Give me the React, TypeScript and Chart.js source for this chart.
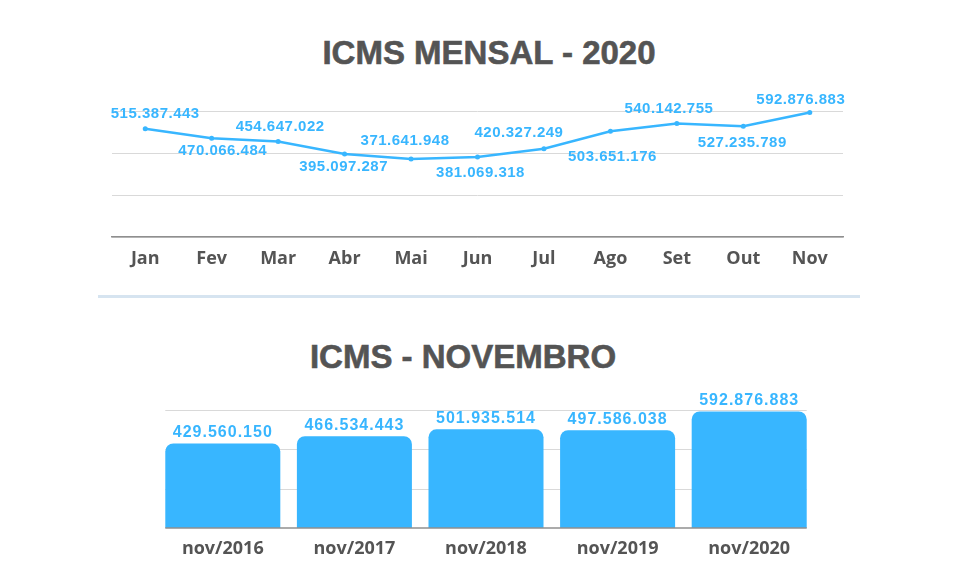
import Chart from 'chart.js/auto';
import React, { useEffect, useRef } from 'react';

const months = ['Jan', 'Fev', 'Mar', 'Abr', 'Mai', 'Jun', 'Jul', 'Ago', 'Set', 'Out', 'Nov'];
const icms2020 = [
  515387443, 470066484, 454647022, 395097287, 371641948, 381069318,
  420327249, 503651176, 540142755, 527235789, 592876883,
];

const novLabels = ['nov/2016', 'nov/2017', 'nov/2018', 'nov/2019', 'nov/2020'];
const novValues = [429560150, 466534443, 501935514, 497586038, 592876883];

const yTicks = [0, 200000000, 400000000, 600000000];

// label placement relative to each point (style only)
const labelShiftX = [10, 11, 2, -1, -6, 3, -25, 2, -8, -1, -9];
const labelShiftY = [-14.5, 12.7, -15, 12.8, -18, 16, -16, 26, -15, 16.5, -12.3];

const BLUE = '#38b6ff';
const DARK = '#545454';
const GRID = '#d9d9d9';
const AXIS = '#8f8f8f';
const TITLE_FONT = '"Liberation Sans", Arial, sans-serif';

const fmt = (n: number) => String(n).replace(/\B(?=(\d{3})+(?!\d))/g, '.');

const LineChart: React.FC = () => {
  const ref = useRef<HTMLCanvasElement>(null);

  useEffect(() => {
    if (!ref.current) return;
    const ctx = ref.current.getContext('2d');
    if (!ctx) return;

    const valueLabels = {
      id: 'valueLabels',
      afterDatasetsDraw(chart: any) {
        const c = chart.ctx;
        const pts = chart.getDatasetMeta(0).data;
        c.save();
        c.font = `bold 15px ${TITLE_FONT}`;
        c.letterSpacing = '0.5px';
        c.fillStyle = BLUE;
        c.textAlign = 'center';
        c.textBaseline = 'middle';
        pts.forEach((pt: any, i: number) => {
          c.fillText(fmt(icms2020[i]), pt.x + labelShiftX[i], pt.y + labelShiftY[i]);
        });
        c.restore();
      },
    };

    const chart = new Chart(ctx, {
      type: 'line',
      data: {
        labels: months,
        datasets: [
          {
            data: icms2020,
            borderColor: BLUE,
            backgroundColor: BLUE,
            borderWidth: 2.5,
            pointRadius: 2.5,
            pointBorderWidth: 0,
            tension: 0,
            clip: false,
          },
        ],
      },
      options: {
        animation: false,
        responsive: false,
        layout: { padding: { left: 112, right: 133, top: 111, bottom: 0 } },
        plugins: { legend: { display: false }, tooltip: { enabled: false } },
        scales: {
          x: {
            offset: true,
            grid: { display: false, drawTicks: false },
            border: { color: AXIS, width: 1.5 },
            ticks: {
              padding: 11,
              color: DARK,
              font: { family: '"Open Sans", sans-serif', size: 18, weight: 'bold' },
            },
            afterFit: (s: any) => {
              s.height = 53;
            },
          },
          y: {
            min: 0,
            max: 600000000,
            afterBuildTicks: (s: any) => {
              s.ticks = yTicks.map((v) => ({ value: v }));
            },
            grid: { color: GRID, drawTicks: false },
            border: { display: false },
            ticks: { display: false },
            afterFit: (s: any) => {
              s.width = 0;
            },
          },
        },
      },
      plugins: [valueLabels],
    });

    return () => {
      chart.destroy();
    };
  }, []);

  return (
    <canvas
      ref={ref}
      width={976}
      height={290}
      style={{ position: 'absolute', left: 0, top: 0, width: 976, height: 290 }}
    />
  );
};

const BarChart: React.FC = () => {
  const ref = useRef<HTMLCanvasElement>(null);

  useEffect(() => {
    if (!ref.current) return;
    const ctx = ref.current.getContext('2d');
    if (!ctx) return;

    const barGrid = {
      id: 'barGrid',
      beforeDatasetsDraw(chart: any) {
        const c = chart.ctx;
        const y = chart.scales.y;
        const bars = chart.getDatasetMeta(0).data;
        const first = bars[0];
        const last = bars[bars.length - 1];
        const left = first.x - first.width / 2;
        const right = last.x + last.width / 2;
        c.save();
        c.strokeStyle = GRID;
        c.lineWidth = 1;
        yTicks.slice(1).forEach((v) => {
          const py = Math.round(y.getPixelForValue(v)) + 0.5;
          c.beginPath();
          c.moveTo(left, py);
          c.lineTo(right, py);
          c.stroke();
        });
        c.restore();
      },
      afterDatasetsDraw(chart: any) {
        const c = chart.ctx;
        const y = chart.scales.y;
        const bars = chart.getDatasetMeta(0).data;
        const first = bars[0];
        const last = bars[bars.length - 1];
        const left = first.x - first.width / 2;
        const right = last.x + last.width / 2;
        c.save();
        c.strokeStyle = AXIS;
        c.lineWidth = 1.5;
        const py = y.getPixelForValue(0);
        c.beginPath();
        c.moveTo(left, py);
        c.lineTo(right, py);
        c.stroke();

        c.font = `bold 16px ${TITLE_FONT}`;
        c.letterSpacing = '1px';
        c.fillStyle = BLUE;
        c.textAlign = 'center';
        c.textBaseline = 'middle';
        bars.forEach((b: any, i: number) => {
          c.fillText(fmt(novValues[i]), b.x, b.y - 10.5);
        });
        c.restore();
      },
    };

    const chart = new Chart(ctx, {
      type: 'bar',
      data: {
        labels: novLabels,
        datasets: [
          {
            data: novValues,
            backgroundColor: BLUE,
            borderRadius: { topLeft: 8, topRight: 8, bottomLeft: 0, bottomRight: 0 },
            borderSkipped: false,
            barPercentage: 0.874,
            categoryPercentage: 1,
          },
        ],
      },
      options: {
        animation: false,
        responsive: false,
        layout: { padding: { left: 157, right: 161, top: 25, bottom: 0 } },
        plugins: { legend: { display: false }, tooltip: { enabled: false } },
        scales: {
          x: {
            grid: { display: false, drawTicks: false },
            border: { display: false },
            ticks: {
              padding: 10,
              color: DARK,
              font: { family: '"Open Sans", sans-serif', size: 18, weight: 'bold' },
            },
            afterFit: (s: any) => {
              s.height = 56;
            },
          },
          y: {
            display: false,
            min: 0,
            max: 600000000,
          },
        },
      },
      plugins: [barGrid],
    });

    return () => {
      chart.destroy();
    };
  }, []);

  return (
    <canvas
      ref={ref}
      width={976}
      height={199}
      style={{ position: 'absolute', left: 0, top: 385, width: 976, height: 199 }}
    />
  );
};

const titleStyle: React.CSSProperties = {
  position: 'absolute',
  width: 500,
  textAlign: 'center',
  fontFamily: TITLE_FONT,
  fontWeight: 700,
  fontSize: 33,
  lineHeight: '33px',
  color: DARK,
  whiteSpace: 'nowrap',
  margin: 0,
  WebkitTextStroke: `0.6px ${DARK}`,
};

export default function App() {
  return (
    <div
      style={{
        position: 'absolute',
        left: 0,
        top: 0,
        width: 976,
        height: 584,
        background: '#ffffff',
        overflow: 'hidden',
      }}
    >
      <div style={{ ...titleStyle, left: 239, top: 36 }}>ICMS MENSAL - 2020</div>
      <LineChart />
      <div
        style={{
          position: 'absolute',
          left: 98,
          top: 295,
          width: 762,
          height: 3,
          background: '#d6e4f0',
        }}
      />
      <div style={{ ...titleStyle, left: 213, top: 340 }}>ICMS - NOVEMBRO</div>
      <BarChart />
    </div>
  );
}
